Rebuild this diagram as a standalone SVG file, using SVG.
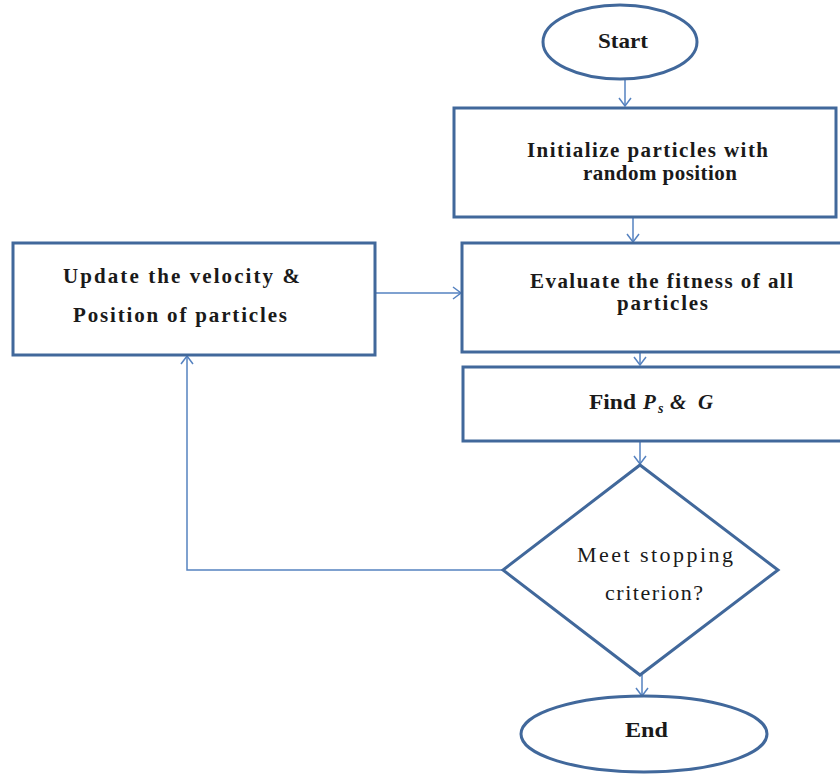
<svg xmlns="http://www.w3.org/2000/svg" width="840" height="775" viewBox="0 0 840 775">
<style>
.shape{fill:#ffffff;stroke:#41689b;stroke-width:3}
.conn{fill:none;stroke:#5582c0;stroke-width:1.5}
.t{font-family:"Liberation Serif","Times New Roman",serif;font-size:21px;font-weight:bold;fill:#1a1a1a}
.tn{font-family:"Liberation Serif","Times New Roman",serif;font-size:22px;fill:#1a1a1a}
</style>
<defs>
<marker id="arr" markerWidth="12" markerHeight="14" refX="10" refY="7" orient="auto" markerUnits="userSpaceOnUse">
<path d="M2,1 L10,7 L2,13" fill="none" stroke="#5582c0" stroke-width="1.5"/>
</marker>
</defs>
<rect width="840" height="775" fill="#ffffff"/>
<g id="connectors">
<line class="conn" x1="625" y1="80" x2="625" y2="106" marker-end="url(#arr)"/>
<line class="conn" x1="633" y1="217" x2="633" y2="242" marker-end="url(#arr)"/>
<line class="conn" x1="375" y1="293" x2="461" y2="293" marker-end="url(#arr)"/>
<line class="conn" x1="640" y1="352" x2="640" y2="365" marker-end="url(#arr)"/>
<line class="conn" x1="640" y1="441" x2="640" y2="464" marker-end="url(#arr)"/>
<line class="conn" x1="642" y1="675" x2="642" y2="696" marker-end="url(#arr)"/>
<polyline class="conn" points="503,570 187,570 187,356" marker-end="url(#arr)"/>
</g>
<g id="start">
<ellipse class="shape" cx="620" cy="42" rx="77" ry="37"/>
<text class="t" x="598" y="48" textLength="50" lengthAdjust="spacingAndGlyphs">Start</text>
</g>
<g id="init">
<rect class="shape" x="454" y="108" width="382" height="109"/>
<text class="t" x="527" y="157" textLength="241" lengthAdjust="spacing">Initialize particles with</text>
<text class="t" x="583" y="180" textLength="154" lengthAdjust="spacing">random position</text>
</g>
<g id="update">
<rect class="shape" x="13" y="243" width="362" height="112"/>
<text class="t" x="63" y="283" textLength="237" lengthAdjust="spacing">Update the velocity &amp;</text>
<text class="t" x="73" y="322" textLength="214" lengthAdjust="spacing">Position of particles</text>
</g>
<g id="evaluate">
<rect class="shape" x="462" y="243" width="382" height="109"/>
<text class="t" x="530" y="288" textLength="263" lengthAdjust="spacing">Evaluate the fitness of all</text>
<text class="t" x="617" y="310" textLength="91" lengthAdjust="spacing">particles</text>
</g>
<g id="find">
<rect class="shape" x="463" y="367" width="381" height="74"/>
<text class="t" y="409"><tspan x="589" textLength="47" lengthAdjust="spacingAndGlyphs">Find</tspan><tspan x="643" font-style="italic">P</tspan><tspan x="658" font-style="italic" font-size="14" dy="4">s</tspan><tspan x="670" font-style="italic" dy="-4">&amp;</tspan><tspan x="698" font-style="italic">G</tspan></text>
</g>
<g id="decision">
<polygon class="shape" points="640,465 778,570 640,675 503,570"/>
<text class="tn" x="577" y="562" textLength="156" lengthAdjust="spacing">Meet stopping</text>
<text class="tn" x="605" y="600" textLength="98" lengthAdjust="spacing">criterion?</text>
</g>
<g id="end">
<ellipse class="shape" cx="644" cy="734" rx="123" ry="38"/>
<text class="t" x="625" y="737" textLength="43" lengthAdjust="spacingAndGlyphs">End</text>
</g>
</svg>
